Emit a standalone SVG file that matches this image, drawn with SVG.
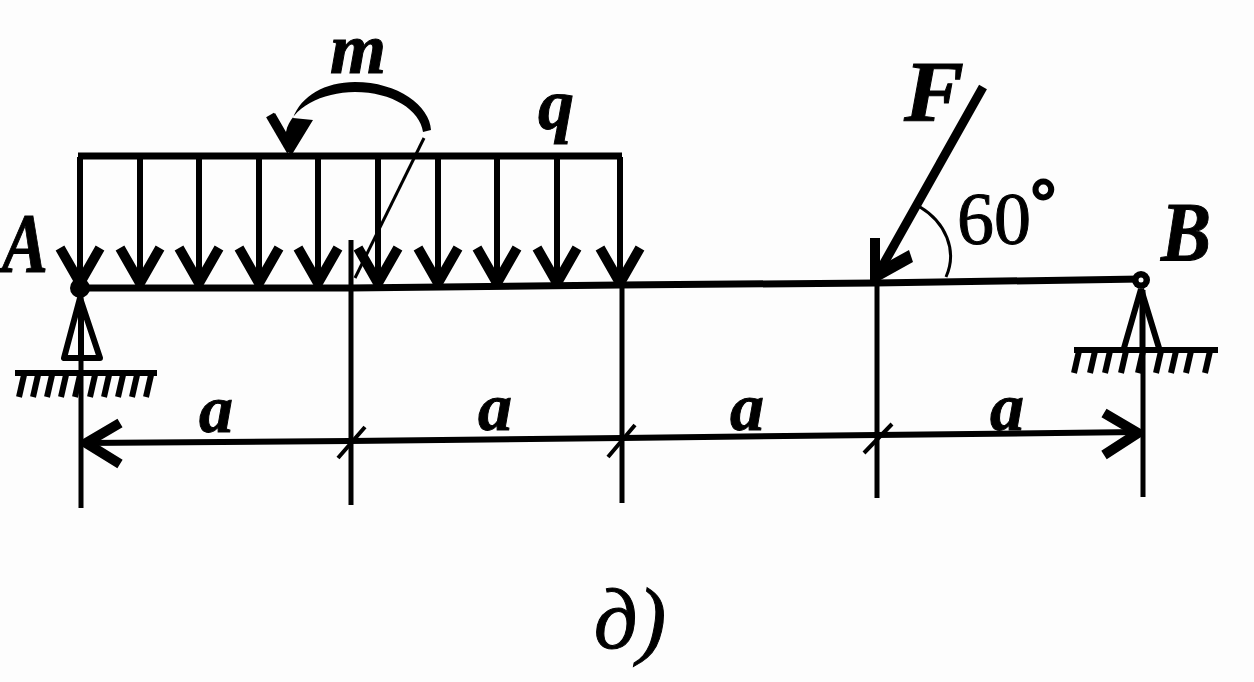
<svg xmlns="http://www.w3.org/2000/svg" xmlns:xlink="http://www.w3.org/1999/xlink" width="1254" height="682" viewBox="0 0 1254 682">
<style>
.l{fill:none;stroke:#000;stroke-linecap:butt;stroke-linejoin:round}
.w7{stroke-width:7}.w6{stroke-width:6}.w5{stroke-width:5}.w4{stroke-width:4}.w3{stroke-width:3}
.t{font-family:"Liberation Serif","Times New Roman",serif;fill:#000;stroke:#000;stroke-width:1}
.bi{font-weight:bold;font-style:italic}
</style>
<defs>
<g id="load"><path class="l w6" d="M0,0V126"/><path class="l" stroke-width="10" d="M-20,91L0,126L20,91"/></g>
<path id="h" class="l" stroke-width="6" d="M0,0L-5,22"/>
</defs>
<rect width="1254" height="682" fill="#fdfdfd"/>
<g id="connectors">
<path class="l w7" d="M80,288L350,288L620,285L875,283L1141,279"/>
<g id="extension-lines">
<path class="l w5" d="M81,290V508"/>
<path class="l w5" d="M351,240V505"/>
<path class="l w5" d="M622,286V503"/>
<path class="l w5" d="M877,285V498"/>
<path class="l w5" d="M1143,290V497"/>
</g>
<g id="dimension">
<path class="l w6" d="M84,443L350,441L622,438L877,435L1138,432"/>
<path class="l" stroke-width="10" stroke-linecap="round" d="M120,423L86,443L120,464"/>
<path class="l" stroke-width="10" stroke-linecap="round" d="M1104,413L1138,433L1104,455"/>
<path class="l w4" d="M338,458L365,427M608,457L635,425M864,453L892,424"/>
</g>
<path id="moment-leader" class="l w3" d="M424,138L355,278"/>
<path id="moment" fill="#000" d="M431,130C430,106 398,82 355,82C325,82 301,96 293,118L313,120L291,156L285,145L270,118L275,113L286,132C291,108 322,92 355,92C392,92 420,110 423,132Z"/>
<path class="l" stroke-width="9" stroke-linecap="round" d="M270,115L291,151"/>
<path id="angle" class="l w3" d="M920,207C945,222 958,250 946,277"/>
<path id="force" class="l" stroke-width="9" d="M983,87L879,272"/>
<path id="force-head" fill="#000" d="M870,238H880V266L909,250L913,262L877,282L870,282Z"/>
</g>
<g id="load-q">
<path class="l w7" d="M78,156H622"/>
<use xlink:href="#load" x="80" y="157"/>
<use xlink:href="#load" x="140" y="157"/>
<use xlink:href="#load" x="199" y="157"/>
<use xlink:href="#load" x="259" y="157"/>
<use xlink:href="#load" x="318" y="157"/>
<use xlink:href="#load" x="378" y="157"/>
<use xlink:href="#load" x="438" y="157"/>
<use xlink:href="#load" x="497" y="157"/>
<use xlink:href="#load" x="557" y="157"/>
<use xlink:href="#load" x="620" y="157"/>
</g>
<g id="support-A">
<circle cx="80" cy="288" r="10" fill="#000"/>
<path class="l w6" d="M80,298L64,358H100ZM81,310V358"/>
<path class="l w3" d="M81,358V372"/>
<path class="l w6" d="M15,373H157"/>
<g id="hatch-A">
<use xlink:href="#h" x="24" y="375"/><use xlink:href="#h" x="38" y="375"/><use xlink:href="#h" x="52" y="375"/><use xlink:href="#h" x="66" y="375"/><use xlink:href="#h" x="80" y="375"/><use xlink:href="#h" x="95" y="375"/><use xlink:href="#h" x="109" y="375"/><use xlink:href="#h" x="123" y="375"/><use xlink:href="#h" x="137" y="375"/><use xlink:href="#h" x="151" y="375"/>
</g>
</g>
<g id="support-B">
<circle cx="1141" cy="280" r="9" fill="#000"/><circle cx="1141" cy="280" r="2.5" fill="#fdfdfd"/>
<path class="l w6" d="M1141,289L1124,348M1141,289L1159,348"/>
<path class="l w3" d="M1141,295V348"/>
<path class="l w6" d="M1074,350H1218"/>
<g id="hatch-B">
<use xlink:href="#h" x="1079" y="351"/><use xlink:href="#h" x="1095" y="351"/><use xlink:href="#h" x="1110" y="351"/><use xlink:href="#h" x="1126" y="351"/><use xlink:href="#h" x="1143" y="351"/><use xlink:href="#h" x="1161" y="351"/><use xlink:href="#h" x="1176" y="351"/><use xlink:href="#h" x="1191" y="351"/><use xlink:href="#h" x="1210" y="351"/>
</g>
</g>
<g id="labels">
<text class="t bi" x="330" y="73" font-size="72">m</text>
<text class="t bi" x="538" y="129" font-size="72">q</text>
<text class="t bi" x="2" y="272" font-size="84" textLength="46" lengthAdjust="spacingAndGlyphs">A</text>
<text class="t bi" x="904" y="121" font-size="86" textLength="60" lengthAdjust="spacingAndGlyphs">F</text>
<text class="t bi" x="1161" y="261" font-size="85" textLength="50" lengthAdjust="spacingAndGlyphs">B</text>
<text class="t" x="957" y="244" font-size="74">60<tspan font-size="62" dy="-23" dx="0" stroke-width="3">°</tspan></text>
<text class="t bi" x="199" y="432" font-size="68">a</text>
<text class="t bi" x="478" y="430" font-size="68">a</text>
<text class="t bi" x="730" y="430" font-size="68">a</text>
<text class="t bi" x="990" y="430" font-size="68">a</text>
<text class="t" x="594" y="648" font-size="86" font-style="italic" stroke-width="2">д)</text>
</g>
</svg>
